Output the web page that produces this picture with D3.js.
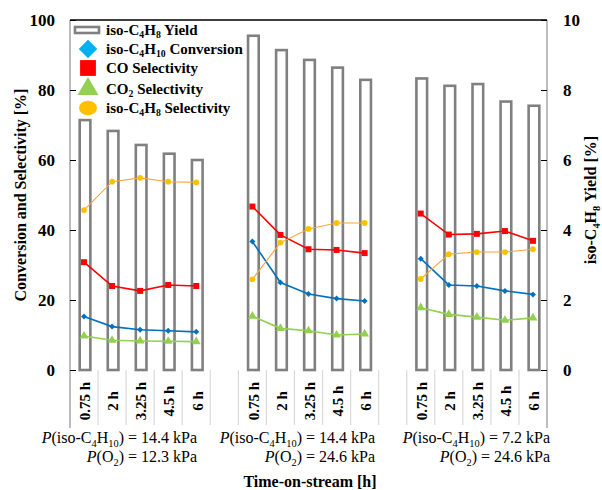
<!DOCTYPE html>
<html>
<head>
<meta charset="utf-8">
<script src="https://cdn.jsdelivr.net/npm/d3@7"></script>
<style>
  body { margin: 0; background: #fff; }
  svg { font-family: "Liberation Serif", "Times New Roman", serif; }
  .bold { font-weight: bold; }
</style>
</head>
<body>
<svg id="chart" width="602" height="490"></svg>
<script>
// data
var times = ["0.75 h", "2 h", "3.25 h", "4.5 h", "6 h"];
var groupLine1 = ["P(iso-C_4H_10) = 14.4 kPa", "P(iso-C_4H_10) = 14.4 kPa", "P(iso-C_4H_10) = 7.2 kPa"];
var groupLine2 = ["P(O_2) = 12.3 kPa", "P(O_2) = 24.6 kPa", "P(O_2) = 24.6 kPa"];
var leftTicks = [0, 20, 40, 60, 80, 100];
var rightTicks = [0, 2, 4, 6, 8, 10];

var yieldC4H8 = [[7.14, 6.83, 6.43, 6.18, 6.00], [9.55, 9.14, 8.86, 8.64, 8.29], [8.33, 8.12, 8.17, 7.67, 7.55]];
var convC4H10 = [[15.3, 12.4, 11.5, 11.2, 10.9], [36.7, 25.0, 21.7, 20.4, 19.7], [31.8, 24.3, 24.0, 22.6, 21.6]];
var selCO     = [[30.8, 24.0, 22.6, 24.3, 24.0], [46.7, 38.6, 34.5, 34.3, 33.4], [44.7, 38.7, 38.9, 39.7, 36.9]];
var selCO2    = [[9.7, 8.5, 8.3, 8.2, 8.1], [15.4, 11.9, 11.2, 10.0, 10.3], [17.8, 15.9, 15.1, 14.2, 14.9]];
var selC4H8   = [[45.7, 53.8, 54.9, 53.8, 53.6], [25.9, 36.4, 40.3, 42.0, 42.0], [26.0, 33.1, 33.7, 33.7, 34.5]];

// rotated square for the diamond markers
var symDiamond = {
  draw: function(ctx, size) {
    var r = Math.sqrt(size / 2);
    ctx.moveTo(0, -r); ctx.lineTo(r, 0); ctx.lineTo(0, r); ctx.lineTo(-r, 0); ctx.closePath();
  }
};

var series = [
  {name: "iso-C_4H_10 Conversion", data: convC4H10, line: "#0070C0", mark: "#0070C0", legend: "#00B0F0", sym: symDiamond, size: 18, lsize: 170, lw: 1.6},
  {name: "CO Selectivity", data: selCO, line: "#FF0000", mark: "#FF0000", legend: "#FF0000", sym: d3.symbolSquare, size: 36, lsize: 250, lw: 1.6},
  {name: "CO_2 Selectivity", data: selCO2, line: "#92D050", mark: "#92D050", legend: "#92D050", sym: d3.symbolTriangle, size: 34, lsize: 190, lw: 1.6},
  {name: "iso-C_4H_8 Selectivity", data: selC4H8, line: "#F9A53A", mark: "#FFC000", legend: "#FFC000", sym: d3.symbolCircle, size: 26, lsize: 210, lw: 1.1}
];

// layout
var margin = {left: 70, right: 55, top: 20, bottom: 120};
var W = 602, H = 490;
var labelRight = [197, 375, 550];

var svg = d3.select("#chart");

// slots: 5 + gap + 5 + gap + 5
var slots = [];
yieldC4H8.forEach(function(g, gi) {
  if (gi > 0) slots.push("gap" + gi);
  times.forEach(function(t, ti) { slots.push(gi + "-" + ti); });
});

var x = d3.scaleBand().domain(slots).range([margin.left, W - margin.right]);
var yL = d3.scaleLinear().domain([0, 100]).range([H - margin.bottom, margin.top]);
var yR = d3.scaleLinear().domain([0, 10]).range([H - margin.bottom, margin.top]);
var bottom = H - margin.bottom;

function cx(gi, ti) { return x(gi + "-" + ti) + x.bandwidth() / 2; }

// text with _sub parts
function richText(sel, str, fs) {
  var parts = str.split(/_(\d+)/);
  parts.forEach(function(p, i) {
    if (p === "") return;
    var sub = i % 2 === 1;
    var ts = sel.append("tspan").text(p);
    if (sub) ts.attr("font-size", fs * 0.65).attr("dy", fs * 0.22);
    else if (i > 0) ts.attr("dy", -fs * 0.22);
  });
}
function italicP(sel, str, fs) {
  // leading "P" italic
  sel.append("tspan").attr("font-style", "italic").text("P");
  richText(sel, str.slice(1), fs);
}

// category separators (light gray)
var bounds = slots.map(function(s) { return x(s); }).slice(1);
svg.append("g").selectAll("line").data(bounds).enter().append("line")
  .attr("x1", function(d) { return d; }).attr("x2", function(d) { return d; })
  .attr("y1", bottom).attr("y2", bottom + 55)
  .attr("stroke", "#D9D9D9").attr("stroke-width", 1.2);

// bars
var barW = x.bandwidth() * 0.38;
yieldC4H8.forEach(function(g, gi) {
  svg.append("g").selectAll("rect").data(g).enter().append("rect")
    .attr("x", function(d, i) { return cx(gi, i) - barW / 2 + 1; })
    .attr("y", function(d) { return yR(d); })
    .attr("width", barW)
    .attr("height", function(d) { return bottom - yR(d); })
    .attr("fill", "#fff")
    .attr("stroke", "#808080")
    .attr("stroke-width", 2.6);
});

// lines + markers
var line = d3.line();
series.forEach(function(s) {
  s.data.forEach(function(g, gi) {
    var pts = g.map(function(v, i) { return [cx(gi, i), yL(v)]; });
    svg.append("path").attr("d", line(pts))
      .attr("fill", "none").attr("stroke", s.line).attr("stroke-width", s.lw);
    svg.append("g").selectAll("path").data(pts).enter().append("path")
      .attr("d", d3.symbol().type(s.sym).size(s.size))
      .attr("transform", function(p) { return "translate(" + p[0] + "," + p[1] + ")"; })
      .attr("fill", s.mark);
  });
});

// frame
svg.append("line").attr("x1", margin.left).attr("x2", W - margin.right)
  .attr("y1", margin.top).attr("y2", margin.top).attr("stroke", "#000").attr("stroke-width", 1.3);
[margin.left, W - margin.right].forEach(function(xx) {
  svg.append("line").attr("x1", xx).attr("x2", xx)
    .attr("y1", margin.top).attr("y2", bottom + 58)
    .attr("stroke", "#A6A6A6").attr("stroke-width", 1.5);
});

// left axis
var axL = svg.append("g").attr("transform", "translate(" + margin.left + ",0)")
  .call(d3.axisRight(yL).tickValues(leftTicks).tickSize(6).tickFormat(""));
axL.select(".domain").remove();
axL.selectAll("line").attr("stroke", "#000");
svg.append("g").selectAll("text").data(leftTicks).enter().append("text")
  .attr("class", "bold").attr("font-size", 17)
  .attr("x", 55).attr("y", function(d) { return yL(d); }).attr("dy", "0.35em")
  .attr("text-anchor", "end").text(function(d) { return d; });

// right axis
var axR = svg.append("g").attr("transform", "translate(" + (W - margin.right) + ",0)")
  .call(d3.axisLeft(yR).tickValues(rightTicks).tickSize(6).tickFormat(""));
axR.select(".domain").remove();
axR.selectAll("line").attr("stroke", "#000");
svg.append("g").selectAll("text").data(rightTicks).enter().append("text")
  .attr("class", "bold").attr("font-size", 17)
  .attr("x", 563).attr("y", function(d) { return yR(d); }).attr("dy", "0.35em")
  .attr("text-anchor", "start").text(function(d) { return d; });

// category labels
yieldC4H8.forEach(function(g, gi) {
  svg.append("g").selectAll("text").data(times).enter().append("text")
    .attr("class", "bold").attr("font-size", 15)
    .attr("text-anchor", "middle").attr("dy", "0.35em")
    .attr("transform", function(d, i) { return "translate(" + (cx(gi, i) + 1) + "," + (bottom + 31) + ") rotate(-90)"; })
    .text(function(d) { return d; });
});

// group labels
groupLine1.forEach(function(t, gi) {
  var t1 = svg.append("text").attr("font-size", 16).attr("text-anchor", "end")
    .attr("x", labelRight[gi]).attr("y", bottom + 73);
  italicP(t1, t, 16);
  var t2 = svg.append("text").attr("font-size", 16).attr("text-anchor", "end")
    .attr("x", labelRight[gi]).attr("y", bottom + 92);
  italicP(t2, groupLine2[gi], 16);
});

// axis titles
svg.append("text").attr("class", "bold").attr("font-size", 16).attr("text-anchor", "middle")
  .attr("x", 310).attr("y", 487).text("Time-on-stream [h]");
svg.append("text").attr("class", "bold").attr("font-size", 16).attr("text-anchor", "middle")
  .attr("transform", "translate(26," + (margin.top + 175) + ") rotate(-90)")
  .text("Conversion and Selectivity [%]");
var rt = svg.append("text").attr("class", "bold").attr("font-size", 16).attr("text-anchor", "middle")
  .attr("transform", "translate(596," + (margin.top + 180) + ") rotate(-90)");
richText(rt, "iso-C_4H_8 Yield [%]", 16);

// legend
var lg = svg.append("g");
var rowY = [30, 49, 68, 89, 108];
lg.append("rect").attr("x", 75).attr("y", rowY[0] - 3).attr("width", 24).attr("height", 6)
  .attr("fill", "#fff").attr("stroke", "#808080").attr("stroke-width", 2.6);
var lt0 = lg.append("text").attr("class", "bold").attr("font-size", 15)
  .attr("x", 106).attr("y", rowY[0]).attr("dy", "0.33em");
richText(lt0, "iso-C_4H_8 Yield", 15);
series.forEach(function(s, i) {
  var yy = rowY[i + 1];
  lg.append("path").attr("fill", s.legend)
    .attr("d", d3.symbol().type(s.sym).size(s.lsize)())
    .attr("transform", "translate(88," + yy + ")" + (s.sym === d3.symbolCircle ? " scale(1.1,0.9)" : ""));
  var t = lg.append("text").attr("class", "bold").attr("font-size", 15)
    .attr("x", 106).attr("y", yy).attr("dy", "0.33em");
  richText(t, s.name, 15);
});
</script>
</body>
</html>
